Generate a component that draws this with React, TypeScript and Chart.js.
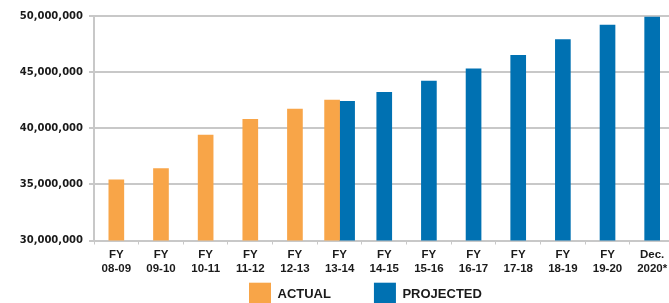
import React, { useEffect, useRef } from "react";
import { Chart, registerables } from "chart.js";

Chart.register(...registerables);

const categories: string[][] = [
  ["FY", "08-09"],
  ["FY", "09-10"],
  ["FY", "10-11"],
  ["FY", "11-12"],
  ["FY", "12-13"],
  ["FY", "13-14"],
  ["FY", "14-15"],
  ["FY", "15-16"],
  ["FY", "16-17"],
  ["FY", "17-18"],
  ["FY", "18-19"],
  ["FY", "19-20"],
  ["Dec.", "2020*"],
];

const actualValues: (number | null)[] = [
  35400000, 36400000, 39400000, 40800000, 41700000, 42500000,
  null, null, null, null, null, null, null,
];

const projectedValues: (number | null)[] = [
  null, null, null, null, null,
  42400000, 43200000, 44200000, 45300000, 46500000, 47900000, 49200000, 49900000,
];

const seriesLabels = ["ACTUAL", "PROJECTED"];
const seriesColors = ["#F8A548", "#0071B2"];

const yMin = 30000000;
const yMax = 50000000;
const yStep = 5000000;

const GRID = "#c8c8c8";
const TEXT = "#1a1a1a";

const legendPlugin = {
  id: "customLegend",
  afterDraw(chart: any) {
    const ctx = chart.ctx;
    ctx.save();
    ctx.font = "bold 13px 'Liberation Sans', Arial, sans-serif";
    ctx.textBaseline = "middle";
    ctx.textAlign = "left";
    const box = 22;
    const top = 282.7;
    let x = 249;
    chart.data.datasets.forEach((ds: any) => {
      ctx.fillStyle = ds.backgroundColor;
      ctx.fillRect(x, top, box, box);
      ctx.fillStyle = TEXT;
      ctx.fillText(ds.label, x + box + 6.5, top + box / 2 + 1);
      x += box + 6.5 + ctx.measureText(ds.label).width + 43;
    });
    ctx.restore();
  },
};

export default function App() {
  const ref = useRef<HTMLCanvasElement | null>(null);

  useEffect(() => {
    if (!ref.current) return;
    const chart = new Chart(ref.current, {
      type: "bar",
      data: {
        labels: categories,
        datasets: [
          {
            label: seriesLabels[0],
            data: actualValues,
            backgroundColor: seriesColors[0],
            borderWidth: 0,
          },
          {
            label: seriesLabels[1],
            data: projectedValues,
            backgroundColor: seriesColors[1],
            borderWidth: 0,
          },
        ],
      },
      options: {
        animation: false,
        responsive: false,
        devicePixelRatio: 1,
        skipNull: true,
        barThickness: 15,
        layout: { padding: { top: 16, left: 0, right: 25.5, bottom: 0 } },
        plugins: {
          legend: { display: false },
          tooltip: { enabled: false },
        },
        scales: {
          x: {
            offset: true,
            grid: {
              display: true,
              drawOnChartArea: false,
              drawTicks: true,
              tickLength: 4,
              color: GRID,
              lineWidth: 1,
            },
            border: { display: false },
            ticks: {
              color: TEXT,
              padding: 3,
              maxRotation: 0,
              autoSkip: false,
              font: {
                family: "'Liberation Sans', Arial, sans-serif",
                size: 11.5,
                weight: "bold",
                lineHeight: 14 / 11.5,
              },
            },
            afterFit: (scale: any) => {
              scale.height = 303 - 240.5;
            },
          },
          y: {
            min: yMin,
            max: yMax,
            grid: {
              color: GRID,
              lineWidth: 2,
              drawTicks: true,
              tickLength: 5,
            },
            border: { display: true, color: GRID, width: 2 },
            ticks: {
              stepSize: yStep,
              color: TEXT,
              padding: 6,
              font: {
                family: "'DejaVu Sans', Verdana, sans-serif",
                size: 10,
                weight: "bold",
              },
              callback: (v: any) => Number(v).toLocaleString("en-US"),
            },
            afterFit: (scale: any) => {
              scale.width = 94;
            },
          },
        },
      } as any,
      plugins: [legendPlugin],
    });
    return () => chart.destroy();
  }, []);

  return (
    <div
      style={{
        position: "fixed",
        left: 0,
        top: 0,
        width: 669,
        height: 303,
        overflow: "hidden",
        background: "#ffffff",
      }}
    >
      <canvas
        ref={ref}
        width={700}
        height={303}
        style={{ display: "block", width: 700, height: 303 }}
      />
    </div>
  );
}
